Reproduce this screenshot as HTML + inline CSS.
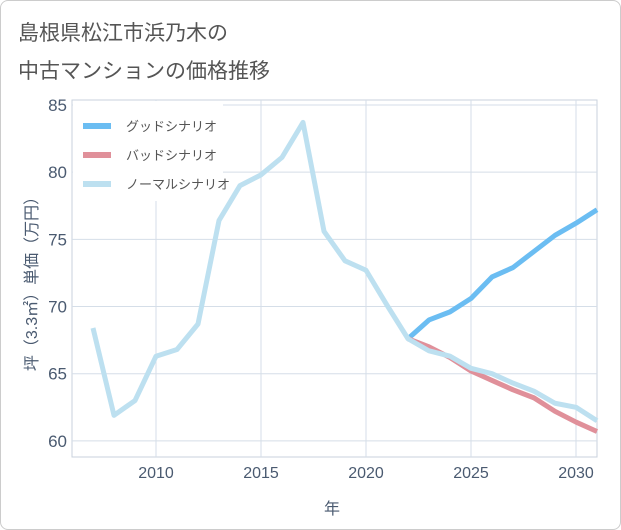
<!DOCTYPE html>
<html><head><meta charset="utf-8"><style>
body{margin:0;background:#fff;font-family:"Liberation Sans","Noto Sans CJK JP",sans-serif;}
#card{position:absolute;left:0;top:0;width:619px;height:528px;border:1px solid #ccc;border-radius:8px;background:#fff;}
</style></head><body>
<div id="card">
<svg width="621" height="530" id="chart" style="position:absolute;left:-1px;top:-1px">
<text x="18" y="40" font-size="21" fill="#555">島根県松江市浜乃木の</text>
<text x="18" y="78" font-size="21" fill="#555">中古マンションの価格推移</text>
<text transform="translate(37,280) rotate(-90)" text-anchor="middle" font-size="16" fill="#4a5a70">坪（3.3㎡）単価（万円）</text>
<text x="332" y="514" text-anchor="middle" font-size="16" fill="#4a5a70">年</text>
<g id="grid"></g><g id="legend"></g><g id="series"></g>
</svg></div>
<script>
const years=[2007,2008,2009,2010,2011,2012,2013,2014,2015,2016,2017,2018,2019,2020,2021,2022,2023,2024,2025,2026,2027,2028,2029,2030,2031];
const normalValues=[68.4,61.9,63.0,66.3,66.8,68.7,76.4,79.0,79.8,81.1,83.7,75.6,73.4,72.7,70.1,67.6,66.7,66.3,65.4,65.0,64.3,63.7,62.8,62.5,61.5];
const futureYears=[2022,2023,2024,2025,2026,2027,2028,2029,2030,2031];
const goodValues=[67.6,69.0,69.6,70.6,72.2,72.9,74.1,75.3,76.2,77.2];
const badValues=[67.6,67.0,66.2,65.2,64.5,63.8,63.2,62.2,61.4,60.7];
const xTicks=[2010,2015,2020,2025,2030];
const yTicks=[60,65,70,75,80,85];
const legendLabels=["グッドシナリオ","バッドシナリオ","ノーマルシナリオ"];
const L=72,R=597,T=100,B=457,x0=2006,x1=2031,y0=58.8,y1=85.37;
const X=v=>L+(v-x0)/(x1-x0)*(R-L);
const Y=v=>B-(v-y0)/(y1-y0)*(B-T);
const NS="http://www.w3.org/2000/svg";
function mk(tag,attrs,parent){const e=document.createElementNS(NS,tag);for(const k in attrs)e.setAttribute(k,attrs[k]);parent.appendChild(e);return e;}
const g=document.getElementById('grid');
mk('rect',{x:L,y:T,width:R-L,height:B-T,fill:'none',stroke:'#c8d2dc'},g);
xTicks.forEach(t=>{const l=mk('line',{x1:X(t),x2:X(t),y1:T,y2:B,stroke:'#d5dee8'},g);


const tx=mk('text',{x:X(t),y:B+21,'text-anchor':'middle','font-size':16,fill:'#4a5a70'},g);tx.textContent=t;

});
yTicks.forEach(t=>{const l=mk('line',{x1:L,x2:R,y1:Y(t),y2:Y(t),stroke:'#d5dee8'},g);


const tx=mk('text',{x:L-5,y:Y(t)+6,'text-anchor':'end','font-size':17,fill:'#4a5a70'},g);tx.textContent=t;

});
const lg=document.getElementById('legend');
const colors=['#6bbdf2','#e0909a','#bde0f0'];
const bg=mk('rect',{x:L+1,y:T+1,width:150,height:100,fill:'#fff'},lg);


legendLabels.forEach((lab,i)=>{const y=126+i*29;
const sw=mk('line',{x1:83,x2:111,y1:y,y2:y,stroke:colors[i],'stroke-width':6},lg);


const t=mk('text',{x:126,y:y+5,'font-size':13,fill:'#555'},lg);t.textContent=lab;

});
const s=document.getElementById('series');
function line(xs,vs,color,name){const p=mk('polyline',{points:xs.map((x,i)=>X(x)+','+Y(vs[i])).join(' '),fill:'none',stroke:color,'stroke-width':5,'stroke-linejoin':'round'},s);

}
line(futureYears,goodValues,'#6bbdf2','good-scenario-line');
line(futureYears,badValues,'#e0909a','bad-scenario-line');
line(years,normalValues,'#bde0f0','normal-scenario-line');
</script>
</body></html>
